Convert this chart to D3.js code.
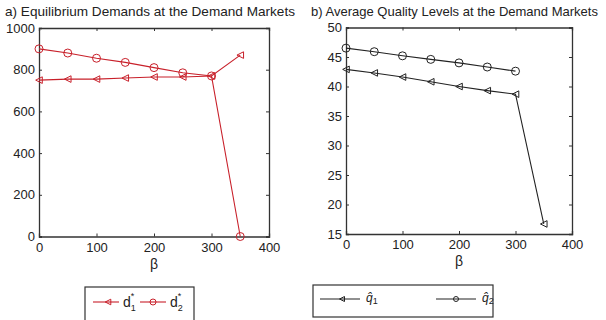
<!DOCTYPE html>
<html>
<head>
<meta charset="utf-8">
<script src="https://cdn.jsdelivr.net/npm/d3@7"></script>
<style>
  body { margin: 0; background: #fff; }
  text { font-family: "Liberation Sans", Arial, sans-serif; fill: #222; }
</style>
</head>
<body>
<svg id="chart" width="606" height="320"></svg>
<script>
// values
var beta = [0, 50, 100, 150, 200, 250, 300, 350];
var d1 = [750, 755, 755, 760, 765, 765, 770, 870];
var d2 = [900, 880, 855, 835, 810, 785, 770, 0];
var q1 = [42.9, 42.3, 41.6, 40.8, 40.0, 39.3, 38.7, 16.7];
var q2 = [46.5, 45.9, 45.2, 44.6, 44.0, 43.3, 42.6];
var xTicks = [0, 100, 200, 300, 400];
var yTicksA = [0, 200, 400, 600, 800, 1000];
var yTicksB = [15, 20, 25, 30, 35, 40, 45, 50];

var red = "#c8202a";
var svg = d3.select("#chart");

function triPath(s) {
  // left pointing triangle
  return "M" + (-s) + ",0L" + s + "," + (-s) + "L" + s + "," + s + "Z";
}

function panel(opt) {
  var x = d3.scaleLinear().domain([0, 400]).range([opt.left, opt.right]);
  var y = d3.scaleLinear().domain(opt.ydom).range([opt.bottom, opt.top]);
  var g = svg.append("g");

  g.append("text")
    .attr("x", opt.titleX)
    .attr("y", 16)
    .attr("font-size", 13)
    .attr("textLength", opt.titleW)
    .attr("lengthAdjust", "spacingAndGlyphs")
    .text(opt.title);

  // box with inward ticks on all sides
  g.append("g").attr("transform", "translate(0," + opt.bottom + ")")
    .call(d3.axisBottom(x).tickValues(xTicks).tickSize(-3).tickPadding(6).tickFormat(d3.format("d")));
  g.append("g").attr("transform", "translate(0," + opt.top + ")")
    .call(d3.axisTop(x).tickValues(xTicks).tickSize(-3).tickFormat(""));
  g.append("g").attr("transform", "translate(" + opt.left + ",0)")
    .call(d3.axisLeft(y).tickValues(opt.yticks).tickSize(-3).tickPadding(4).tickFormat(d3.format("d")));
  g.append("g").attr("transform", "translate(" + opt.right + ",0)")
    .call(d3.axisRight(y).tickValues(opt.yticks).tickSize(-3).tickFormat(""));

  g.selectAll(".domain").attr("stroke", "#333").attr("stroke-width", 1.3);
  g.selectAll(".tick line").attr("stroke", "#333");
  g.selectAll(".tick text").attr("font-size", 13).attr("fill", "#222")
    .attr("font-family", "Liberation Sans, Arial, sans-serif");

  g.append("text")
    .attr("x", (opt.left + opt.right) / 2)
    .attr("y", opt.bottom + 32)
    .attr("text-anchor", "middle")
    .attr("font-size", 14)
    .text("β");

  opt.series.forEach(function (s) {
    var pts = s.values.map(function (v, i) { return [x(beta[i]), y(v)]; });
    g.append("path")
      .attr("d", d3.line()(pts))
      .attr("fill", "none")
      .attr("stroke", opt.color)
      .attr("stroke-width", 1.1);
    var m = g.selectAll(null).data(pts).enter();
    if (s.marker == "circle") {
      m.append("circle")
        .attr("cx", function (d) { return d[0]; })
        .attr("cy", function (d) { return d[1]; })
        .attr("r", 4)
        .attr("fill", "none")
        .attr("stroke", opt.color);
    } else {
      m.append("path")
        .attr("d", triPath(3.3))
        .attr("transform", function (d) { return "translate(" + d[0] + "," + d[1] + ")"; })
        .attr("fill", "none")
        .attr("stroke", opt.color);
    }
  });
}

panel({
  left: 39, right: 269, top: 28, bottom: 236.5,
  ydom: [0, 1000], yticks: yTicksA, color: red,
  title: "a) Equilibrium Demands at the Demand Markets", titleX: 5, titleW: 290,
  series: [{ values: d1, marker: "tri" }, { values: d2, marker: "circle" }]
});

panel({
  left: 346, right: 572, top: 27.5, bottom: 234,
  ydom: [15, 50], yticks: yTicksB, color: "#222",
  title: "b) Average Quality Levels at the Demand Markets", titleX: 311, titleW: 287,
  series: [{ values: q1, marker: "tri" }, { values: q2, marker: "circle" }]
});

// legends
var lgA = svg.append("g");
lgA.append("rect").attr("x", 85).attr("y", 287).attr("width", 109).attr("height", 34)
  .attr("fill", "#fff").attr("stroke", "#333").attr("stroke-width", 1.2);
[{ x0: 93, mk: "tri", sub: "1" }, { x0: 140, mk: "circle", sub: "2" }].forEach(function (it) {
  var cy = 302;
  lgA.append("line").attr("x1", it.x0).attr("x2", it.x0 + 26).attr("y1", cy).attr("y2", cy)
    .attr("stroke", red).attr("stroke-width", 1.1);
  if (it.mk == "circle") {
    lgA.append("circle").attr("cx", it.x0 + 13).attr("cy", cy).attr("r", 3)
      .attr("fill", "none").attr("stroke", red);
  } else {
    lgA.append("path").attr("d", triPath(2.8)).attr("transform", "translate(" + (it.x0 + 15) + "," + cy + ")")
      .attr("fill", "none").attr("stroke", red);
  }
  var t = lgA.append("text").attr("x", it.x0 + 30).attr("y", cy + 5).attr("font-size", 14);
  t.append("tspan").text("d");
  t.append("tspan").attr("font-size", 9).attr("dy", 4).text(it.sub);
  t.append("tspan").attr("font-size", 9).attr("dx", -5).attr("dy", -12).text("*");
});

var lgB = svg.append("g");
lgB.append("rect").attr("x", 313).attr("y", 285).attr("width", 180).attr("height", 32)
  .attr("fill", "#fff").attr("stroke", "#333").attr("stroke-width", 1.2);
[{ x0: 320, mk: "tri", sub: "1" }, { x0: 436, mk: "circle", sub: "2" }].forEach(function (it) {
  var cy = 299;
  lgB.append("line").attr("x1", it.x0).attr("x2", it.x0 + 40).attr("y1", cy).attr("y2", cy)
    .attr("stroke", "#222").attr("stroke-width", 1.1);
  if (it.mk == "circle") {
    lgB.append("circle").attr("cx", it.x0 + 20).attr("cy", cy).attr("r", 2.5)
      .attr("fill", "none").attr("stroke", "#222");
  } else {
    lgB.append("path").attr("d", triPath(2.5)).attr("transform", "translate(" + (it.x0 + 22) + "," + cy + ")")
      .attr("fill", "none").attr("stroke", "#222");
  }
  var t = lgB.append("text").attr("x", it.x0 + 46).attr("y", cy + 3)
    .attr("font-family", "Liberation Serif, serif").attr("font-size", 12);
  t.append("tspan").attr("font-style", "italic").text("q̂");
  t.append("tspan").attr("font-size", 9).attr("dy", 2).text(it.sub);
});
</script>
</body>
</html>
